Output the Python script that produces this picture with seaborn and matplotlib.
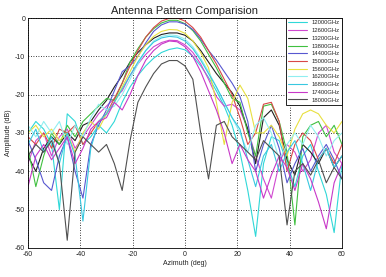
import numpy as np
import pandas as pd
import matplotlib
matplotlib.use("Agg")
import matplotlib.pyplot as plt
import seaborn as sns

azimuth = [-60, -57, -54, -51, -48, -45, -42, -39, -36, -33, -30, -27, -24, -21, -18, -15, -12, -9, -6, -3,
           0, 3, 6, 9, 12, 15, 18, 21, 24, 27, 30, 33, 36, 39, 42, 45, 48, 51, 54, 57, 60]

labels = ["12000GHz", "12600GHz", "13200GHz", "13800GHz", "14400GHz", "15000GHz",
          "15600GHz", "16200GHz", "16800GHz", "17400GHz", "18000GHz"]

s12000 = [-30, -27, -29, -33, -50, -25, -27, -33, -31, -28, -30, -27, -22, -18, -15, -12.5, -10.5, -9, -8.2, -7.8,
          -8.3, -10, -12.5, -15.5, -19, -23, -28, -35, -45, -57, -38, -31, -32, -38, -44, -36, -33, -40, -46, -56, -38]
s12600 = [-38, -32, -30, -36, -31, -29, -34, -31, -28, -25, -23, -21, -19, -15, -12, -9.5, -7.5, -6.4, -5.8, -5.9,
          -7, -9, -12, -16, -20.5, -23, -22.5, -24, -29, -36, -42, -47, -38, -33, -35, -40, -37, -30, -28, -35, -38]
s13200 = [-36, -40, -34, -31, -33, -30, -32, -28, -27, -24, -21.5, -18, -15, -11.5, -9, -7, -5.3, -4.3, -3.9, -3.9,
          -4.5, -6, -8.5, -11.5, -14.5, -17, -19.5, -23, -29, -38, -26, -24, -28, -37, -41, -33, -35, -38, -34, -39, -36]
s13800 = [-34, -44, -36, -30, -33, -28, -31, -27, -25, -23, -21, -21.5, -17, -11.5, -8, -5, -2.8, -1.3, -0.6, -0.6,
          -1.5, -3.3, -6, -9.5, -13, -17, -21, -22, -30, -36, -23, -22.5, -27, -35, -54, -31, -28, -27, -31, -28, -33]
s14400 = [-32, -37, -43, -45, -36, -31, -40, -47, -33, -28, -24, -19, -14, -12.5, -10, -6.5, -3.5, -1.8, -1, -1,
          -1.6, -3, -5.5, -8.5, -11, -14, -17, -20.5, -27, -40, -33, -28, -34, -43, -38, -34, -40, -36, -33, -37, -42]
s15000 = [-31, -33, -30, -34, -29, -30, -28, -33, -30, -27, -25, -21, -17, -12.5, -8.5, -5, -2.5, -0.8, -0.1, 0,
          -0.8, -2.5, -5, -8.5, -12, -16, -20, -26, -33, -30, -22.5, -22, -27, -40, -33, -30, -32, -37, -34, -38, -33]
s15600 = [-30, -28, -31, -29, -32, -30, -35, -30, -27, -29, -25, -22, -18, -14, -10, -7, -4.8, -3.5, -3, -3.1,
          -4, -6, -9, -13, -22, -33, -22, -17.5, -21, -30, -30, -28, -31, -36, -29, -25, -24, -25, -28, -30, -27]
s16200 = [-28, -31, -27, -30, -27, -33, -28, -31, -26, -22.5, -24, -23, -20, -16, -12, -8.5, -6, -4.8, -4.4, -4.6,
          -5.5, -7.5, -10.5, -14, -18, -22, -26, -30, -35, -28, -26, -30, -37, -33, -30, -33, -28, -31, -36, -32, -30]
s16800 = [-33, -29, -35, -31, -38, -30, -36, -53, -34, -27, -25, -22, -18.5, -15, -11.5, -8.5, -6.3, -5.2, -4.8, -5,
          -6, -8, -11, -14.5, -18, -22, -26, -29, -37, -44, -36, -33, -40, -35, -32, -38, -45, -37, -34, -39, -36]
s17400 = [-44, -36, -33, -37, -34, -31, -38, -34, -29, -27, -26, -22, -24, -20, -15, -11, -8.5, -6.8, -6, -6.2,
          -7.5, -10, -14, -19, -24, -30, -38, -33, -37, -40, -47, -41, -36, -39, -45, -38, -42, -48, -55, -43, -38]
s18000 = [-36, -33, -35, -32, -38, -58, -35, -31, -33, -35, -33, -38, -45, -32, -22, -18, -14.5, -12, -11.1, -11.1,
          -12.5, -16, -30, -42, -28, -27, -31, -33, -35, -37, -32, -34, -36, -54, -40, -38, -41, -37, -43, -39, -42]

series = [s12000, s12600, s13200, s13800, s14400, s15000, s15600, s16200, s16800, s17400, s18000]
colors = ["#30d8d8", "#d048d0", "#202020", "#40c040", "#5858d0", "#d84848",
          "#e8e040", "#90eef0", "#38c8e0", "#c838c8", "#505050"]

rows = []
for lab, vals in zip(labels, series):
    for a, v in zip(azimuth, vals):
        rows.append({"Azimuth": a, "Amplitude": v, "Freq": lab})
df = pd.DataFrame(rows)

sns.set_style("white")
plt.rcParams['font.family'] = ['Liberation Sans', 'DejaVu Sans']
plt.rcParams['axes.unicode_minus'] = False

fig = plt.figure(figsize=(3.86, 2.77), dpi=100)
ax = fig.add_axes([0.0725, 0.105, 0.8135, 0.83])

sns.lineplot(data=df, x="Azimuth", y="Amplitude", hue="Freq", hue_order=labels,
             palette=colors, estimator=None, sort=True, linewidth=0.8, ax=ax)

ax.set_xlim(-60, 60)
ax.set_ylim(-60, 0)
ax.set_xticks([-60, -40, -20, 0, 20, 40, 60])
ax.set_yticks([-60, -50, -40, -30, -20, -10, 0])
ax.tick_params(labelsize=5, direction="in", length=2, width=0.5, pad=2, colors="#222222")
ax.grid(True, linestyle=(0, (1, 2)), color="black", linewidth=0.6)
for sp in ax.spines.values():
    sp.set_color("black")
    sp.set_linewidth(0.6)

ax.set_title("Antenna Pattern Comparision", fontsize=8, pad=3, color="#222222")
ax.set_xlabel("Azimuth (deg)", fontsize=5, labelpad=2, color="#222222")
ax.set_ylabel("Amplitude (dB)", fontsize=5, labelpad=2, color="#222222")

leg = ax.legend(loc="upper right", fontsize=4.2, frameon=True, fancybox=False,
                edgecolor="black", framealpha=1, borderpad=0.4, labelspacing=0.45,
                handlelength=3.2, handletextpad=0.8, borderaxespad=0)
leg.get_frame().set_linewidth(0.6)

fig.savefig("out.png", dpi=100)
